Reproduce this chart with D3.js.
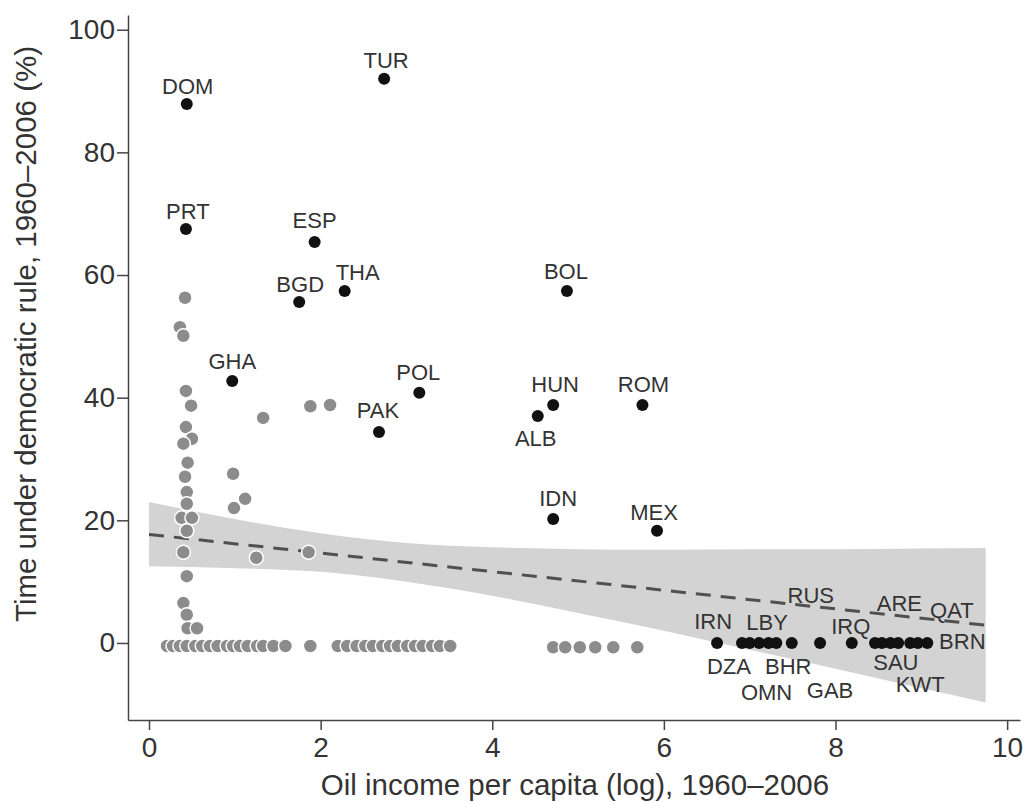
<!DOCTYPE html>
<html>
<head>
<meta charset="utf-8">
<script src="https://cdn.jsdelivr.net/npm/d3@7"></script>
<style>
  body { margin: 0; background: #fff; }
  text { font-family: "Liberation Sans", Arial, sans-serif; fill: #333; }
</style>
</head>
<body>
<div id="chart"></div>
<script>
// Labelled countries (black dots)
const blackCodes = ["DOM", "TUR", "PRT", "ESP", "THA", "BGD", "BOL", "GHA", "POL", "HUN",
  "ROM", "ALB", "PAK", "IDN", "MEX", "IRN", "DZA", "", "LBY", "OMN", "BHR", "RUS", "GAB",
  "IRQ", "", "SAU", "ARE", "", "KWT", "QAT", "BRN"];
const blackOil = [0.44, 2.74, 0.43, 1.93, 2.28, 1.75, 4.87, 0.97, 3.15, 4.71,
  5.75, 4.53, 2.68, 4.71, 5.92, 6.62, 6.91, 7.00, 7.11, 7.22, 7.31, 7.49, 7.82,
  8.19, 8.46, 8.54, 8.64, 8.73, 8.87, 8.96, 9.07];
const blackDem = [87.9, 92.0, 67.5, 65.4, 57.4, 55.6, 57.4, 42.7, 40.8, 38.8,
  38.8, 37.0, 34.4, 20.2, 18.3, 0, 0, 0, 0, 0, 0, 0, 0,
  0, 0, 0, 0, 0, 0, 0, 0];

// Other countries (grey dots)
const greyOil = [0.42, 0.36, 0.40, 0.43, 0.49, 0.43, 0.50, 0.40, 0.45, 0.42, 0.44, 0.44,
  0.38, 0.50, 0.44, 0.40, 0.44, 0.40, 0.44, 0.45, 0.56,
  1.33, 1.88, 2.11, 0.98, 1.12, 0.99, 1.25, 1.86,
  0.21, 0.28, 0.36, 0.44, 0.54, 0.62, 0.71, 0.80, 0.91, 0.98, 1.06, 1.15, 1.26, 1.33,
  1.45, 1.59, 1.88, 2.20, 2.31, 2.42, 2.52, 2.61, 2.72, 2.81, 2.90, 3.01, 3.10, 3.19,
  3.30, 3.39, 3.51, 4.71, 4.85, 5.02, 5.20, 5.41, 5.69];
const greyDem = [56.3, 51.5, 50.1, 41.1, 38.7, 35.2, 33.3, 32.5, 29.4, 27.1, 24.6, 22.7,
  20.4, 20.4, 18.3, 14.8, 10.9, 6.5, 4.6, 2.4, 2.4,
  36.7, 38.6, 38.8, 27.6, 23.5, 22.0, 13.9, 14.8,
  -0.5, -0.5, -0.5, -0.5, -0.5, -0.5, -0.5, -0.5, -0.5, -0.5, -0.5, -0.5, -0.5, -0.5,
  -0.5, -0.5, -0.5, -0.5, -0.5, -0.5, -0.5, -0.5, -0.5, -0.5, -0.5, -0.5, -0.5, -0.5,
  -0.5, -0.5, -0.5, -0.7, -0.7, -0.7, -0.7, -0.7, -0.7];

// Fitted line and its confidence band
const fitOil = [0, 9.75];
const fitDem = [17.7, 2.9];
const bandOil = [0, 1, 2, 3, 4, 5, 6, 7, 8, 9, 9.75];
const bandUpper = [23.0, 20.2, 17.9, 16.3, 15.6, 15.3, 15.2, 15.3, 15.3, 15.4, 15.5];
const bandLower = [12.5, 12.2, 11.6, 10.0, 7.7, 4.9, 2.0, -1.1, -4.2, -7.4, -9.7];

// Axis ticks
const xTicks = [0, 2, 4, 6, 8, 10];
const yTicks = [0, 20, 40, 60, 80, 100];

// Where each label sits relative to its dot (px)
const labelOffsets = {
  DOM: [1, -18], TUR: [2, -19], PRT: [2, -18], ESP: [0, -22], THA: [13, -19],
  BGD: [1, -18], BOL: [-1, -20], GHA: [0, -20], POL: [-1, -21], HUN: [2, -21],
  ROM: [1, -21], ALB: [-2, 22], PAK: [-1, -22], IDN: [5, -21], MEX: [-3, -19],
  IRN: [-4, -22], DZA: [-13, 23], LBY: [8, -21], OMN: [-2, 49], BHR: [12, 23],
  RUS: [19, -48], GAB: [10, 47], IRQ: [-1, -17], SAU: [14, 19], ARE: [9, -40],
  KWT: [10, 41], QAT: [34, -33], BRN: [35, -2]
};

const width = 1026;
const height = 802;

const svg = d3.select("#chart")
  .append("svg")
  .attr("width", width)
  .attr("height", height);

const x = d3.scaleLinear().domain([-0.245, 10.15]).range([128, 1020]);
const y = d3.scaleLinear().domain([-12.56, 102.4]).range([720, 15]);

// Confidence band
const band = d3.area()
  .x((d, i) => x(bandOil[i]))
  .y0((d, i) => y(bandLower[i]))
  .y1((d, i) => y(bandUpper[i]))
  .curve(d3.curveMonotoneX);

svg.append("path")
  .datum(bandOil)
  .attr("d", band)
  .attr("fill", "#d3d3d3");

// Fitted line
const fitLine = d3.line()
  .x((d, i) => x(fitOil[i]))
  .y((d, i) => y(fitDem[i]));

svg.append("path")
  .datum(fitOil)
  .attr("d", fitLine)
  .attr("fill", "none")
  .attr("stroke", "#505050")
  .attr("stroke-width", 3)
  .attr("stroke-dasharray", "15,10");

// Grey dots
svg.append("g")
  .selectAll("circle")
  .data(greyOil)
  .join("circle")
  .attr("cx", (d) => x(d))
  .attr("cy", (d, i) => y(greyDem[i]))
  .attr("r", 7)
  .attr("fill", "#8c8c8c")
  .attr("stroke", "#fff")
  .attr("stroke-width", 1.5);

// Black dots
svg.append("g")
  .selectAll("circle")
  .data(blackOil)
  .join("circle")
  .attr("cx", (d) => x(d))
  .attr("cy", (d, i) => y(blackDem[i]))
  .attr("r", 6)
  .attr("fill", "#111");

// Country labels
svg.append("g")
  .selectAll("text")
  .data(blackCodes.filter((c) => c !== ""))
  .join("text")
  .attr("x", (c) => x(blackOil[blackCodes.indexOf(c)]) + labelOffsets[c][0])
  .attr("y", (c) => y(blackDem[blackCodes.indexOf(c)]) + labelOffsets[c][1])
  .attr("dy", "0.36em")
  .attr("text-anchor", "middle")
  .style("font-size", "22px")
  .text((c) => c);

// Axes
const xAxis = svg.append("g")
  .attr("transform", "translate(0,720)")
  .call(d3.axisBottom(x).tickValues(xTicks).tickSize(10).tickSizeOuter(0).tickPadding(7));

const yAxis = svg.append("g")
  .attr("transform", "translate(128,0)")
  .call(d3.axisLeft(y).tickValues(yTicks).tickSize(11).tickSizeOuter(0).tickPadding(2));

[xAxis, yAxis].forEach((a) => {
  a.selectAll("path, line").attr("stroke", "#444").attr("stroke-width", 1.5);
  a.selectAll("text")
    .style("font-size", "28px")
    .style("font-family", "'Liberation Sans', Arial, sans-serif")
    .attr("fill", "#333");
});

// Axis titles
svg.append("text")
  .attr("x", 575)
  .attr("y", 795)
  .attr("text-anchor", "middle")
  .style("font-size", "29.5px")
  .text("Oil income per capita (log), 1960–2006");

svg.append("text")
  .attr("transform", "translate(36,334) rotate(-90)")
  .attr("text-anchor", "middle")
  .style("font-size", "29.5px")
  .text("Time under democratic rule, 1960–2006 (%)");
</script>
</body>
</html>
